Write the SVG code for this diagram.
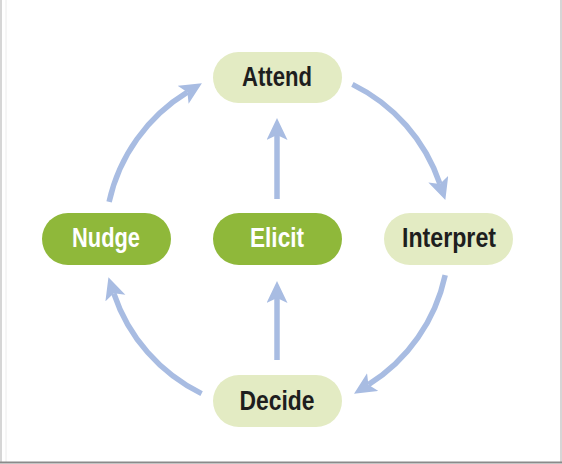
<svg xmlns="http://www.w3.org/2000/svg" width="562" height="464" viewBox="0 0 562 464">
<style>
.light{fill:#e3ebc3}
.dark{fill:#8fb83a}
.t{font-family:"Liberation Sans",Arial,sans-serif;font-weight:bold;font-size:28.5px;text-anchor:middle}
.tl{fill:#1e1e1e}
.tw{fill:#ffffff}
.c{fill:none;stroke:#a8bce2;stroke-width:5.5;marker-end:url(#ah)}
</style>
<defs>
<marker id="ah" markerUnits="userSpaceOnUse" markerWidth="24" markerHeight="22" refX="5" refY="10.5" orient="auto">
<path d="M0,0 L22,10.5 L0,21 L5,10.5 z" fill="#a8bce2"/>
</marker>
</defs>
<rect x="0" y="0" width="562" height="464" fill="#ffffff"/>
<line x1="1" y1="0" x2="1" y2="462" stroke="#c8c8c8" stroke-width="1.5"/>
<line x1="6" y1="0" x2="6" y2="462" stroke="#ececec" stroke-width="1"/>
<line x1="561" y1="0" x2="561" y2="462" stroke="#c8c8c8" stroke-width="1.5"/>
<line x1="0" y1="462.5" x2="562" y2="462.5" stroke="#8a8a8a" stroke-width="2"/>
<g id="connectors">
<path class="c" d="M109.1,201.8 A172,172 0 0 1 187.4,92.2"/>
<path class="c" d="M352.4,84.4 A172,172 0 0 1 439.9,183.9"/>
<path class="c" d="M445.2,275.1 A172,172 0 0 1 368.4,384.7"/>
<path class="c" d="M201.6,393.6 A172,172 0 0 1 113.8,293.3"/>
<path class="c" d="M277,199 L277,135"/>
<path class="c" d="M277,360 L277,298"/>
</g>
<g id="attend">
<rect class="light" x="213" y="52" width="129" height="51" rx="25.5"/>
<text class="t tl" x="277" y="85.5" textLength="70" lengthAdjust="spacingAndGlyphs">Attend</text>
</g>
<g id="nudge">
<rect class="dark" x="42" y="213" width="129" height="52" rx="26"/>
<text class="t tw" x="106" y="246.5" textLength="68" lengthAdjust="spacingAndGlyphs">Nudge</text>
</g>
<g id="elicit">
<rect class="dark" x="213" y="213" width="129" height="52" rx="26"/>
<text class="t tw" x="277" y="246.5" textLength="54" lengthAdjust="spacingAndGlyphs">Elicit</text>
</g>
<g id="interpret">
<rect class="light" x="384" y="213" width="129" height="52" rx="26"/>
<text class="t tl" x="449" y="246.5" textLength="94" lengthAdjust="spacingAndGlyphs">Interpret</text>
</g>
<g id="decide">
<rect class="light" x="213" y="375" width="129" height="52" rx="26"/>
<text class="t tl" x="277" y="409.5" textLength="75" lengthAdjust="spacingAndGlyphs">Decide</text>
</g>
</svg>
